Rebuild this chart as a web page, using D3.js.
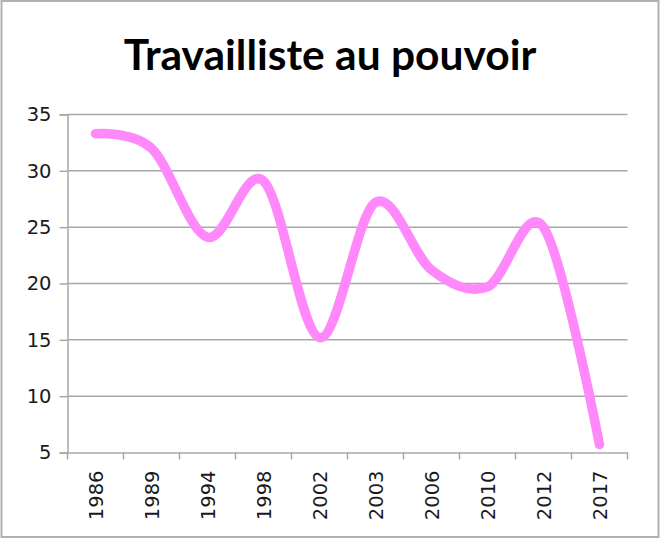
<!DOCTYPE html>
<html lang="fr">
<head>
  <meta charset="UTF-8">
  <title>Travailliste au pouvoir</title>
  <script src="https://cdn.jsdelivr.net/npm/d3@7/dist/d3.min.js"></script>
  <style>
    html, body { margin: 0; padding: 0; background: #fff; }
    svg { display: block; }
    .tick text { font-family: "DejaVu Sans", sans-serif; font-size: 19.5px; fill: #1a1a1a; }
  </style>
</head>
<body>
  <svg width="661" height="540"></svg>

  <script>
    const years = ['1986', '1989', '1994', '1998', '2002', '2003', '2006', '2010', '2012', '2017']
    const values = [33.3, 32.0, 24.1, 29.1, 15.2, 27.2, 21.2, 19.7, 25.0, 5.7]
    const yTicks = [5, 10, 15, 20, 25, 30, 35]

    const svg = d3.select('svg')
    const plotLeft = 67.5, plotRight = 627.5, plotTop = 114.5, plotBottom = 452.5

    // cadre gris autour du graphique
    svg.append('rect')
      .attr('x', 1.5).attr('y', 1)
      .attr('width', 657).attr('height', 536)
      .attr('fill', 'none')
      .attr('stroke', '#b0b0b0')
      .attr('stroke-width', 2)

    svg.append('text')
      .attr('x', 330)
      .attr('y', 70)
      .attr('text-anchor', 'middle')
      .attr('font-family', 'Lato, "Open Sans", sans-serif')
      .attr('font-weight', 'bold')
      .attr('font-size', 42.5)
      .attr('fill', '#000')
      .text('Travailliste au pouvoir')

    const x = d3.scaleBand().domain(years).range([plotLeft, plotRight])
    const y = d3.scaleLinear().domain([5, 35]).range([plotBottom, plotTop])

    // grille horizontale
    svg.append('g')
      .selectAll('line')
      .data(yTicks.slice(1))
      .join('line')
      .attr('x1', plotLeft).attr('x2', plotRight)
      .attr('y1', d => y(d)).attr('y2', d => y(d))
      .attr('stroke', '#a8a8a8')
      .attr('stroke-width', 1.5)

    const yAxis = svg.append('g')
      .attr('transform', `translate(${plotLeft},0)`)
      .call(d3.axisLeft(y).tickValues(yTicks).tickSize(8).tickPadding(8))
    yAxis.selectAll('.domain, .tick line').attr('stroke', '#a8a8a8').attr('stroke-width', 1.5)

    const xAxis = svg.append('g')
      .attr('transform', `translate(0,${plotBottom})`)
      .call(d3.axisBottom(x).tickSize(0).tickFormat(''))
    xAxis.select('.domain').attr('stroke', '#a8a8a8').attr('stroke-width', 1.5)

    // petites graduations entre les catégories
    xAxis.append('g')
      .selectAll('line')
      .data(years.concat(['end']))
      .join('line')
      .attr('x1', (d, i) => i < years.length ? x(d) : plotRight)
      .attr('x2', (d, i) => i < years.length ? x(d) : plotRight)
      .attr('y1', 0).attr('y2', 7)
      .attr('stroke', '#a8a8a8')
      .attr('stroke-width', 1.5)

    xAxis.append('g')
      .selectAll('text')
      .data(years)
      .join('text')
      .attr('transform', d => `translate(${x(d) + x.bandwidth() / 2 + 7},18) rotate(-90)`)
      .attr('text-anchor', 'end')
      .attr('font-family', '"DejaVu Sans", sans-serif')
      .attr('font-size', 19.5)
      .attr('fill', '#1a1a1a')
      .text(d => d)

    const line = d3.line()
      .x((d, i) => x(years[i]) + x.bandwidth() / 2)
      .y(d => y(d))
      .curve(d3.curveCardinal.tension(0))

    svg.append('path')
      .datum(values)
      .attr('d', line)
      .attr('fill', 'none')
      .attr('stroke', '#ff88fa')
      .attr('stroke-width', 9.5)
      .attr('stroke-linecap', 'round')
      .attr('stroke-linejoin', 'round')
  </script>
</body>
</html>
